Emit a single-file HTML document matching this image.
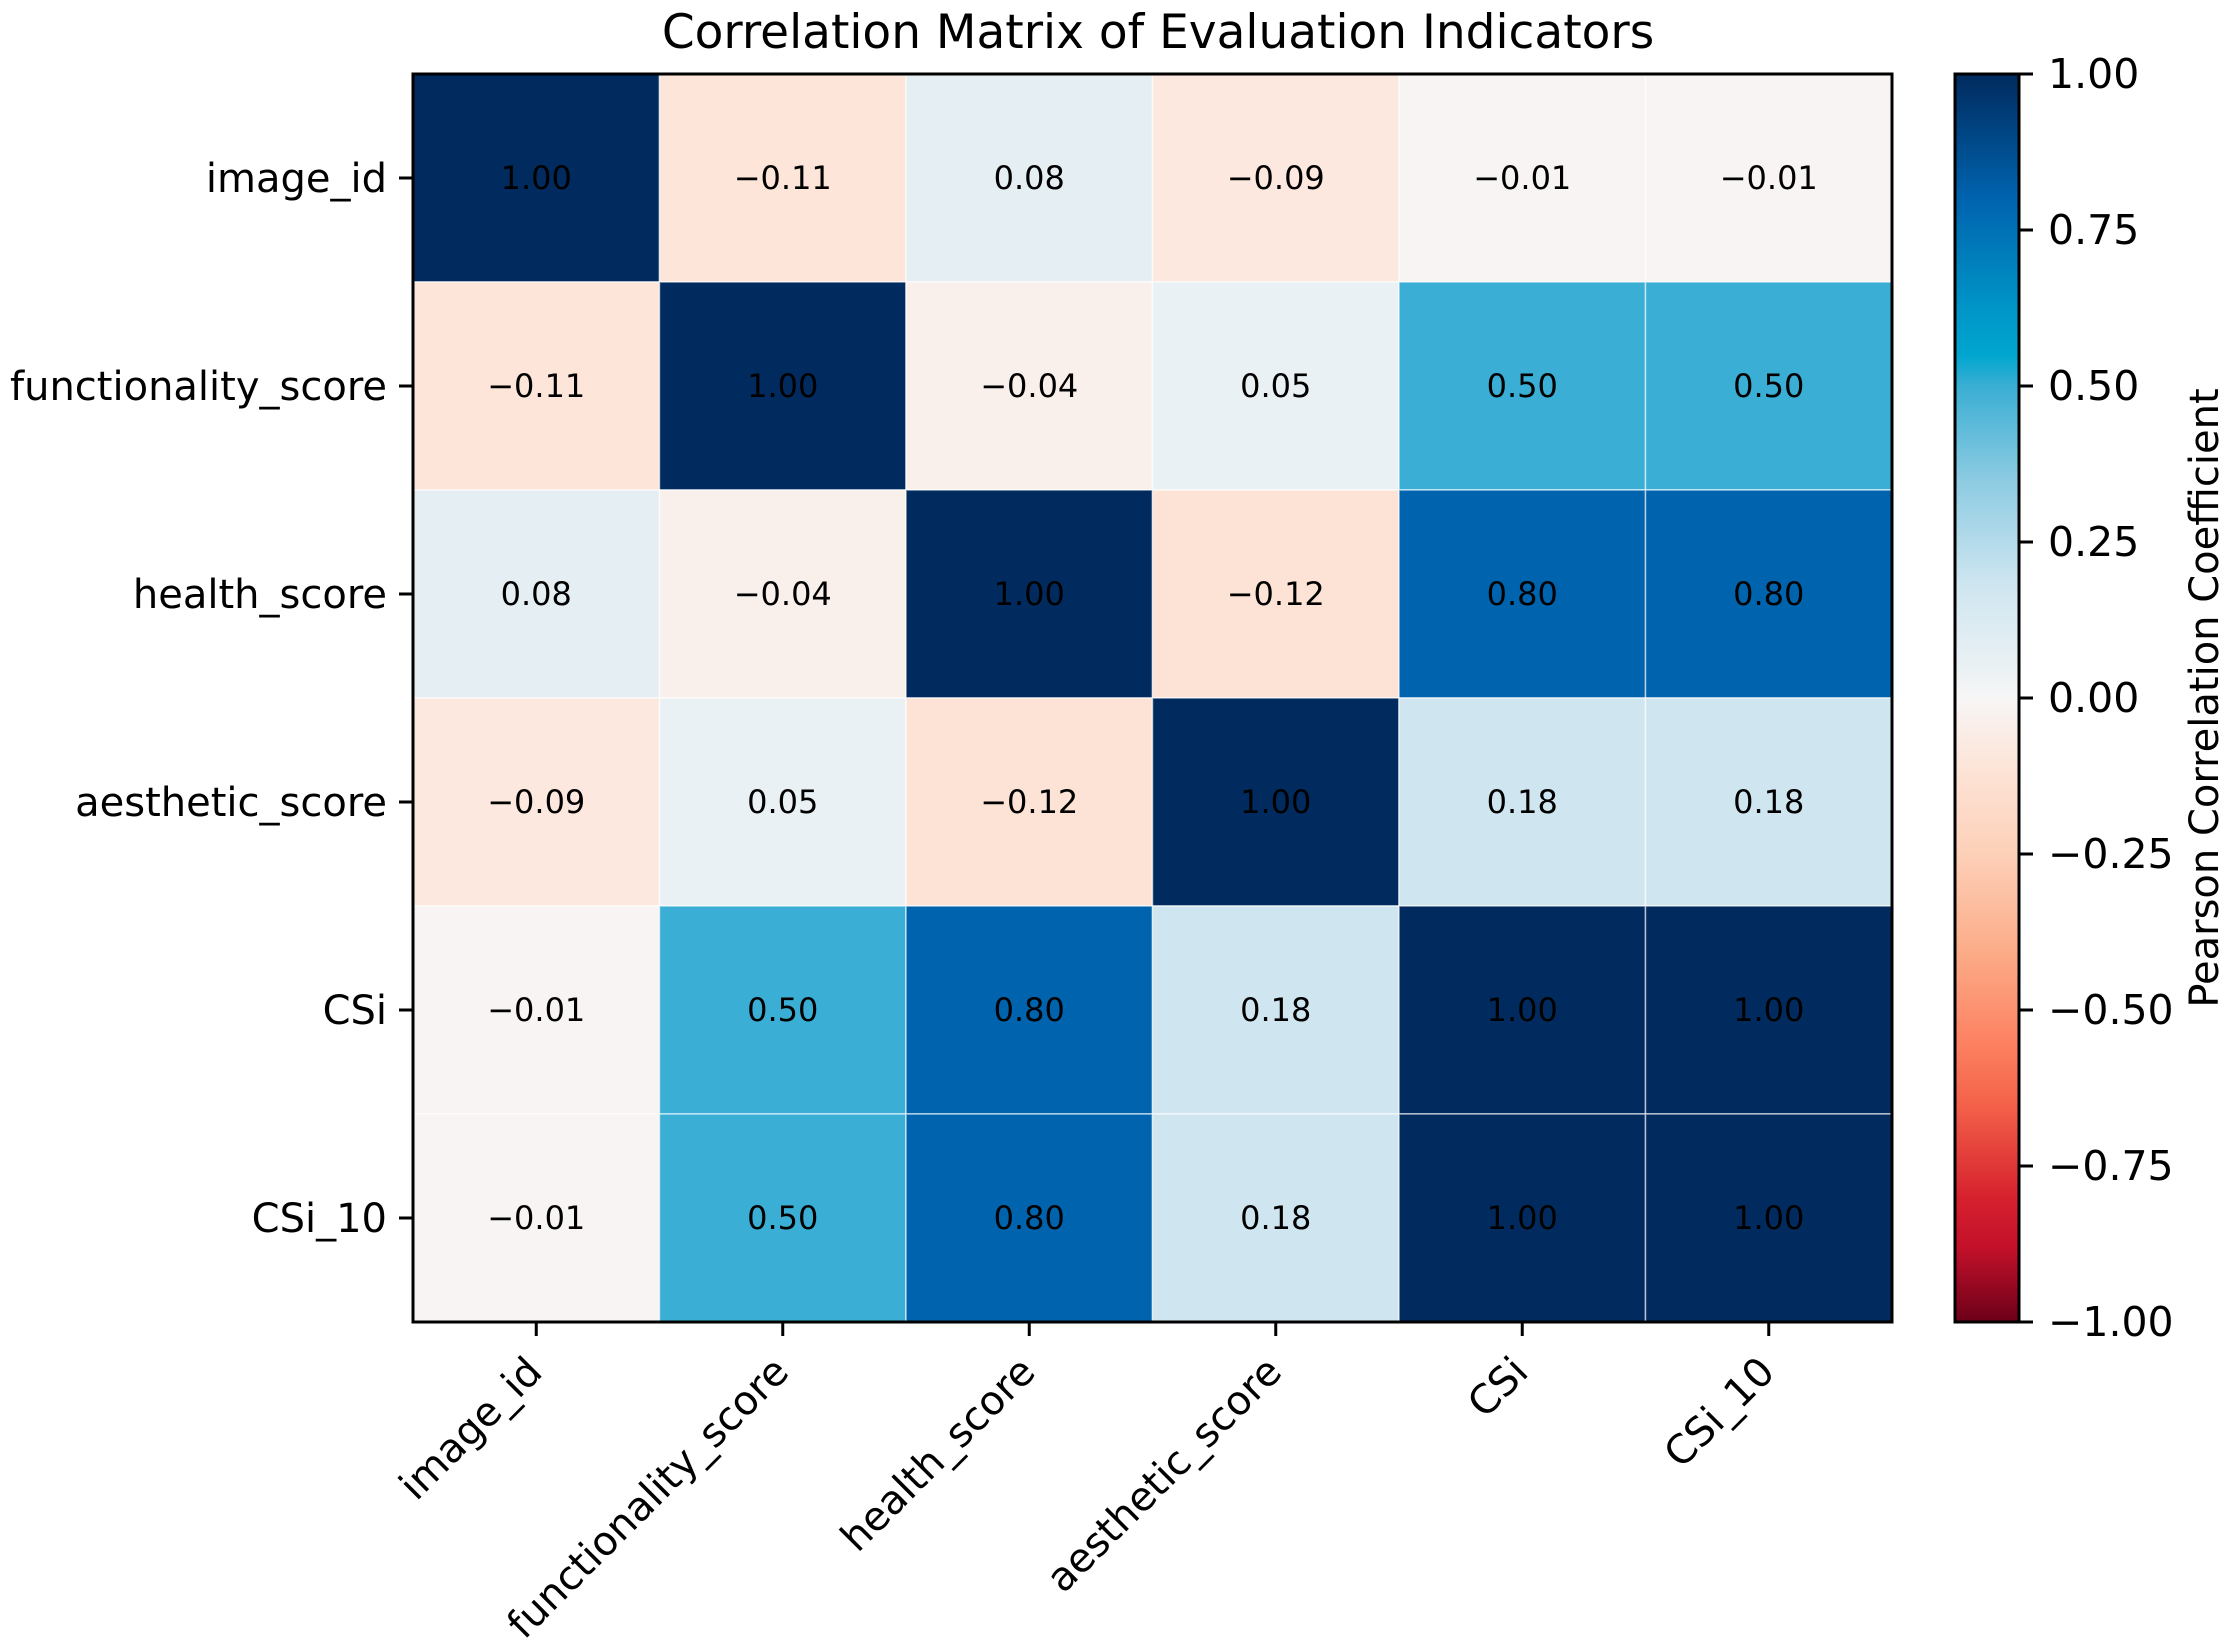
<!DOCTYPE html>
<html><head><meta charset="utf-8"><style>
html,body{margin:0;padding:0;background:#fff;}
svg{display:block;font-family:"DejaVu Sans","Liberation Sans",sans-serif;}
</style></head><body>
<svg id="chart" width="2237" height="1651" viewBox="0 0 2237 1651" xmlns="http://www.w3.org/2000/svg">
<defs>
<linearGradient id="cbgrad" x1="0" y1="1" x2="0" y2="0"></linearGradient>
</defs>
<text x="1158" y="48" text-anchor="middle" font-size="47" fill="#000">Correlation Matrix of Evaluation Indicators</text>
<g id="cells"></g>
<g id="annots"></g>
<rect x="413" y="74" width="1479" height="1248" fill="none" stroke="#000" stroke-width="3"/>
<g id="yaxis"></g>
<g id="xaxis"></g>
<rect x="1955" y="74" width="64" height="1248" fill="url(#cbgrad)" stroke="#000" stroke-width="3"/>
<g id="cbaxis"></g>
<text transform="translate(2218,698) rotate(-90)" text-anchor="middle" font-size="40" fill="#000">Pearson Correlation Coefficient</text>
</svg>
<script>
const labels = ["image_id","functionality_score","health_score","aesthetic_score","CSi","CSi_10"];
const row0 = [1.00,-0.11,0.08,-0.09,-0.01,-0.01];
const row1 = [-0.11,1.00,-0.04,0.05,0.50,0.50];
const row2 = [0.08,-0.04,1.00,-0.12,0.80,0.80];
const row3 = [-0.09,0.05,-0.12,1.00,0.18,0.18];
const row4 = [-0.01,0.50,0.80,0.18,1.00,1.00];
const row5 = [-0.01,0.50,0.80,0.18,1.00,1.00];
const matrix = [row0,row1,row2,row3,row4,row5];
const cbTicks = [1.00,0.75,0.50,0.25,0.00,-0.25,-0.50,-0.75,-1.00];
const cmapVals = [-1.00,-0.88,-0.80,-0.65,-0.55,-0.40,-0.25,-0.12,-0.01,0.00,0.05,0.18,0.35,0.50,0.55,0.62,0.80,1.00];
const cmapCols = ["#6c0019","#c4112a","#d6222e","#f4624a","#fc8262","#fcae8a","#fdd0b8","#fde3d6","#f8f4f3","#f7f6f6","#eaf1f4","#cfe6f0","#8ccbe2","#3aaed4","#00a6cf","#0096c8","#0063ae","#012b5e"];

const NS="http://www.w3.org/2000/svg";
const X0=413,X1=1892,Y0=74,Y1=1322,CB0=74,CB1=1322;
const n=labels.length, cw=(X1-X0)/n, ch=(Y1-Y0)/n;
const xs=i=>X0+i*cw, ys=i=>Y0+i*ch;
const cbY=v=>CB1-(v+1)/2*(CB1-CB0);
function hex(h){return [1,3,5].map(k=>parseInt(h.substr(k,2),16));}
function color(v){
  if(v<=cmapVals[0])return cmapCols[0];
  for(let k=1;k<cmapVals.length;k++){
    if(v<=cmapVals[k]){
      const t=(v-cmapVals[k-1])/(cmapVals[k]-cmapVals[k-1]);
      const a=hex(cmapCols[k-1]),b=hex(cmapCols[k]);
      return "rgb("+a.map((c,j)=>Math.round(c+(b[j]-c)*t)).join(",")+")";
    }
  }
  return cmapCols[cmapCols.length-1];
}
function mk(tag,attrs,parent){const e=document.createElementNS(NS,tag);for(const k in attrs)e.setAttribute(k,attrs[k]);parent.appendChild(e);return e;}
const fmt=v=>(v<0?"\u2212":"")+Math.abs(v).toFixed(2);

const grad=document.getElementById("cbgrad");
cmapVals.forEach((v,k)=>{mk("stop",{offset:((v+1)/2*100)+"%","stop-color":cmapCols[k]},grad);});

const cells=document.getElementById("cells"),annots=document.getElementById("annots");
matrix.forEach((row,r)=>row.forEach((v,c)=>{
  const rc=mk("rect",{x:xs(c),y:ys(r),width:cw,height:ch,fill:color(v),stroke:"#ffffff","stroke-opacity":"0.6","stroke-width":"1.5"},cells);
  
  
  const t=mk("text",{x:xs(c)+cw/2,y:ys(r)+ch/2+11,"text-anchor":"middle","font-size":"32",fill:"#000"},annots);
  t.textContent=fmt(v);
  
  
}));

const yax=document.getElementById("yaxis"),xax=document.getElementById("xaxis");
labels.forEach((l,i)=>{
  const cy=ys(i)+ch/2;
  const tk=mk("line",{x1:X0-14,x2:X0,y1:cy,y2:cy,stroke:"#000","stroke-width":"3"},yax);
  
  
  const t=mk("text",{x:X0-26,y:cy+14,"text-anchor":"end","font-size":"40",fill:"#000"},yax);
  t.textContent=l;
  
  
  const cx=xs(i)+cw/2;
  const tk2=mk("line",{x1:cx,x2:cx,y1:Y1,y2:Y1+14,stroke:"#000","stroke-width":"3"},xax);
  
  
  const t2=mk("text",{transform:"translate("+(cx+8)+","+(Y1+52)+") rotate(-45)","text-anchor":"end","font-size":"40",fill:"#000"},xax);
  t2.textContent=l;
  
  
});

const cba=document.getElementById("cbaxis");
cbTicks.forEach(v=>{
  const y=cbY(v);
  const tk=mk("line",{x1:2019,x2:2033,y1:y,y2:y,stroke:"#000","stroke-width":"3"},cba);
  
  
  const t=mk("text",{x:2048,y:y+14,"font-size":"41",fill:"#000"},cba);
  t.textContent=fmt(v);
  
  
});
</script>
</body></html>
